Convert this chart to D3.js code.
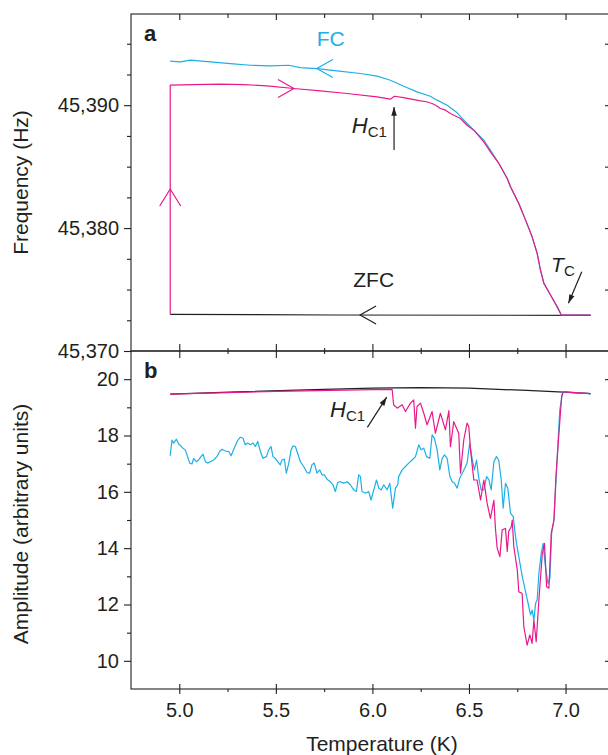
<!DOCTYPE html>
<html>
<head>
  <meta charset="utf-8">
  <title>Frequency / amplitude vs temperature</title>
  <script src="https://cdn.jsdelivr.net/npm/d3@7/dist/d3.min.js"></script>
  <style>
    body { margin: 0; background: #fff; }
    svg { display: block; font-family: "Liberation Sans", Arial, sans-serif; }
    .tick text { font-size: 20px; fill: #231f20; }
    .tick line { stroke: #231f20; stroke-width: 1.1; }
    .frame { fill: none; stroke: #231f20; stroke-width: 1.1; }
    .curve { fill: none; stroke-width: 1.2; stroke-linejoin: round; }
  </style>
</head>
<body>
<script>
  // axis ticks
  const tempTicks = [5.0, 5.5, 6.0, 6.5, 7.0];
  const tempMinor = [5.25, 5.75, 6.25, 6.75];
  const freqTicks = [45370, 45380, 45390];
  const freqMinor = [45372.5, 45375, 45377.5, 45382.5, 45385, 45387.5, 45392.5, 45395];
  const freqRight = [45375, 45380, 45385, 45390, 45395];
  const ampTicks = [10, 12, 14, 16, 18, 20];
  const ampMinor = [11, 13, 15, 17, 19];

  // panel a: [temperature K, frequency Hz]
  const fcFreq = [
    [4.953, 45393.58], [5.005, 45393.52], [5.057, 45393.66], [5.161, 45393.52], [5.264, 45393.39],
    [5.368, 45393.25], [5.472, 45393.20], [5.567, 45393.25], [5.627, 45393.06], [5.713, 45392.98],
    [5.817, 45392.79], [5.938, 45392.58], [6.024, 45392.36], [6.093, 45392.03], [6.162, 45391.54],
    [6.231, 45391.08], [6.300, 45390.73], [6.335, 45390.41], [6.387, 45390.00], [6.439, 45389.38],
    [6.482, 45388.65], [6.525, 45387.97], [6.577, 45387.15], [6.611, 45386.34], [6.655, 45385.26],
    [6.698, 45384.04], [6.715, 45383.36], [6.758, 45382.00], [6.793, 45380.65], [6.827, 45379.29],
    [6.853, 45377.94], [6.870, 45376.59], [6.888, 45375.50], [6.922, 45374.55], [6.957, 45373.59],
    [6.978, 45372.93], [7.130, 45372.93]
  ];
  const zfcFreq = [[7.130, 45372.90], [5.800, 45372.93], [4.953, 45372.98]];
  const warmFreq = [
    [4.953, 45372.98], [4.953, 45391.63], [5.074, 45391.68], [5.212, 45391.71], [5.333, 45391.68],
    [5.454, 45391.57], [5.593, 45391.36], [5.730, 45391.16], [5.869, 45390.95], [6.024, 45390.68],
    [6.093, 45390.49], [6.114, 45390.73], [6.162, 45390.62], [6.249, 45390.35], [6.280, 45390.28],
    [6.309, 45390.14], [6.330, 45389.98], [6.352, 45389.73], [6.375, 45389.62], [6.404, 45389.32],
    [6.456, 45388.92], [6.490, 45388.37], [6.525, 45387.97], [6.577, 45387.02], [6.611, 45386.20],
    [6.655, 45385.26], [6.698, 45384.04], [6.715, 45383.36], [6.758, 45382.00], [6.793, 45380.65],
    [6.827, 45379.29], [6.853, 45377.94], [6.870, 45376.59], [6.888, 45375.50], [6.922, 45374.55],
    [6.957, 45373.59], [6.978, 45372.93], [7.130, 45372.93]
  ];

  // panel b: [temperature K, amplitude]
  const refAmp = [
    [4.953, 19.47], [5.3, 19.55], [5.7, 19.63], [6.0, 19.68], [6.25, 19.70],
    [6.5, 19.68], [6.8, 19.60], [6.99, 19.54], [7.13, 19.49]
  ];
  const fcAmp = [
    [4.953, 17.28], [4.962, 17.84], [4.971, 17.73], [4.985, 17.87], [4.997, 17.70], [5.019, 17.55],
    [5.031, 17.49], [5.040, 17.31], [5.054, 17.02], [5.066, 16.99], [5.074, 17.19], [5.088, 17.07],
    [5.100, 17.13], [5.112, 17.25], [5.123, 17.34], [5.135, 17.07], [5.147, 17.02], [5.161, 17.07],
    [5.178, 17.13], [5.195, 17.25], [5.209, 17.43], [5.221, 17.51], [5.238, 17.45], [5.256, 17.43],
    [5.268, 17.28], [5.282, 17.51], [5.302, 17.82], [5.316, 17.94], [5.330, 17.90], [5.342, 17.67],
    [5.354, 17.73], [5.368, 17.67], [5.382, 17.73], [5.394, 17.61], [5.406, 17.79], [5.420, 17.43],
    [5.433, 17.19], [5.451, 17.25], [5.463, 17.49], [5.475, 17.61], [5.485, 17.25], [5.497, 17.19],
    [5.509, 17.07], [5.523, 16.96], [5.532, 17.13], [5.544, 17.16], [5.554, 16.66], [5.567, 17.02],
    [5.579, 17.49], [5.589, 17.63], [5.601, 17.61], [5.613, 17.37], [5.627, 17.07], [5.644, 16.90],
    [5.662, 16.68], [5.675, 16.66], [5.687, 16.96], [5.699, 17.02], [5.713, 16.66], [5.727, 16.78],
    [5.739, 16.60], [5.751, 16.60], [5.765, 16.45], [5.782, 16.36], [5.796, 16.25], [5.808, 16.01],
    [5.820, 16.33], [5.834, 16.36], [5.851, 16.31], [5.869, 16.36], [5.886, 16.25], [5.903, 16.07],
    [5.917, 16.01], [5.929, 16.60], [5.938, 16.54], [5.946, 16.01], [5.964, 15.95], [5.981, 16.01],
    [5.993, 15.71], [6.007, 16.07], [6.021, 16.42], [6.033, 16.13], [6.045, 16.07], [6.059, 16.25],
    [6.076, 16.07], [6.090, 16.30], [6.105, 15.42], [6.119, 16.13], [6.131, 16.25], [6.136, 16.54],
    [6.154, 16.78], [6.171, 16.90], [6.188, 17.02], [6.206, 17.13], [6.223, 17.25], [6.240, 17.67],
    [6.252, 17.49], [6.266, 17.55], [6.280, 17.25], [6.297, 17.19], [6.309, 18.02], [6.321, 17.90],
    [6.335, 17.49], [6.349, 16.78], [6.361, 17.19], [6.373, 17.31], [6.387, 17.19], [6.401, 16.54],
    [6.413, 16.36], [6.425, 16.31], [6.439, 16.13], [6.452, 16.48], [6.465, 16.66], [6.478, 16.84],
    [6.490, 17.02], [6.504, 17.73], [6.516, 17.19], [6.528, 16.78], [6.539, 17.13], [6.551, 16.48],
    [6.563, 16.07], [6.577, 16.07], [6.591, 16.54], [6.603, 16.43], [6.615, 16.07], [6.629, 17.07],
    [6.642, 17.25], [6.654, 17.13], [6.667, 16.43], [6.677, 15.42], [6.689, 16.30], [6.701, 16.13],
    [6.715, 15.24], [6.729, 15.12], [6.741, 14.41], [6.750, 14.00], [6.758, 13.70], [6.776, 12.99],
    [6.793, 12.45], [6.810, 11.92], [6.819, 11.63], [6.827, 11.80], [6.836, 11.45], [6.845, 12.04],
    [6.853, 12.16], [6.862, 13.11], [6.874, 13.82], [6.884, 14.17], [6.896, 13.34], [6.909, 12.75],
    [6.919, 12.93], [6.928, 14.53], [6.940, 15.00], [6.955, 17.00], [6.970, 18.90], [6.985, 19.55],
    [7.130, 19.49]
  ];
  const zfcAmp = [
    [4.953, 19.47], [5.5, 19.57], [6.0, 19.63], [6.102, 19.64], [6.110, 19.09], [6.128, 18.97],
    [6.154, 19.09], [6.171, 18.85], [6.197, 19.15], [6.214, 19.26], [6.223, 18.26], [6.231, 19.03],
    [6.249, 19.15], [6.266, 18.79], [6.283, 18.38], [6.309, 18.85], [6.326, 18.08], [6.352, 18.79],
    [6.378, 18.20], [6.396, 18.88], [6.404, 17.60], [6.421, 18.49], [6.447, 18.08], [6.456, 16.66],
    [6.473, 17.84], [6.490, 18.44], [6.499, 18.32], [6.508, 17.49], [6.525, 16.42], [6.542, 16.42],
    [6.560, 15.71], [6.577, 16.42], [6.594, 15.59], [6.611, 15.06], [6.629, 15.71], [6.637, 14.70],
    [6.646, 14.00], [6.660, 13.70], [6.672, 14.65], [6.689, 14.70], [6.698, 13.88], [6.706, 14.60],
    [6.719, 14.76], [6.724, 15.00], [6.732, 14.06], [6.750, 13.23], [6.758, 12.45], [6.775, 12.40],
    [6.784, 11.21], [6.801, 10.56], [6.815, 10.92], [6.827, 10.62], [6.836, 11.45], [6.848, 10.68],
    [6.862, 12.16], [6.879, 13.76], [6.891, 14.17], [6.902, 12.63], [6.914, 12.58], [6.926, 14.53],
    [6.940, 15.00], [6.950, 16.50], [6.965, 18.00], [6.980, 19.40], [6.990, 19.55], [7.130, 19.49]
  ];

  const cyan = '#1cb0e6', magenta = '#e8198b', ink = '#231f20';
  const left = 131, right = 609, topA = 14, mid = 351, bottom = 689;

  const svg = d3.select('body').append('svg')
    .attr('width', 608)
    .attr('height', 755);

  const x = d3.scaleLinear().domain([4.75, 7.225]).range([left, right]);
  const yA = d3.scaleLinear().domain([45370, 45397.42]).range([mid, topA]);
  const yB = d3.scaleLinear().domain([9, 21]).range([bottom, mid]);

  svg.append('defs').append('marker')
    .attr('id', 'head')
    .attr('markerUnits', 'userSpaceOnUse')
    .attr('viewBox', '0 -4 10 8')
    .attr('refX', 10).attr('refY', 0)
    .attr('markerWidth', 10).attr('markerHeight', 7)
    .attr('orient', 'auto')
    .append('path').attr('d', 'M0,-3.2L10,0L0,3.2Z').attr('fill', ink);

  // ticks drawn with axis generators, no domain path
  function ticks(gen, tx, ty) {
    const g = svg.append('g').attr('transform', `translate(${tx},${ty})`).call(gen);
    g.select('.domain').remove();
    return g;
  }

  // x ticks: top of a, between panels, bottom of b
  ticks(d3.axisTop(x).tickValues(tempTicks).tickSize(-6).tickFormat(''), 0, topA);
  ticks(d3.axisTop(x).tickValues(tempMinor).tickSize(-4).tickFormat(''), 0, topA);
  ticks(d3.axisTop(x).tickValues(tempTicks).tickSize(7).tickFormat(''), 0, mid);
  ticks(d3.axisBottom(x).tickValues(tempTicks).tickSize(7).tickFormat(''), 0, mid);
  ticks(d3.axisTop(x).tickValues(tempMinor).tickSize(3).tickFormat(''), 0, mid);
  ticks(d3.axisBottom(x).tickValues(tempMinor).tickSize(3).tickFormat(''), 0, mid);
  ticks(d3.axisBottom(x).tickValues(tempTicks).tickSize(-5).tickFormat(''), 0, bottom);
  ticks(d3.axisBottom(x).tickValues(tempTicks).tickSizeInner(5).tickSizeOuter(0).tickPadding(9)
    .tickFormat(d3.format('.1f')), 0, bottom);
  ticks(d3.axisBottom(x).tickValues(tempMinor).tickSize(3).tickFormat(''), 0, bottom);

  // y ticks panel a
  ticks(d3.axisLeft(yA).tickValues(freqTicks).tickSize(7).tickPadding(5).tickFormat(d3.format(',')), left, 0);
  ticks(d3.axisLeft(yA).tickValues(freqMinor).tickSize(4).tickFormat(''), left, 0);
  ticks(d3.axisRight(yA).tickValues(freqRight).tickSize(-4).tickFormat(''), right, 0);

  // y ticks panel b
  ticks(d3.axisLeft(yB).tickValues(ampTicks).tickSize(7).tickPadding(5).tickFormat(d3.format('d')), left, 0);
  ticks(d3.axisLeft(yB).tickValues(ampMinor).tickSize(4).tickFormat(''), left, 0);
  ticks(d3.axisRight(yB).tickValues(ampTicks).tickSize(-4).tickFormat(''), right, 0);

  svg.selectAll('.tick text').attr('fill', ink);

  // frames
  svg.append('rect').attr('class', 'frame')
    .attr('x', left).attr('y', topA).attr('width', right - left).attr('height', mid - topA);
  svg.append('rect').attr('class', 'frame')
    .attr('x', left).attr('y', mid).attr('width', right - left).attr('height', bottom - mid);

  // curves
  const lineA = d3.line().x(d => x(d[0])).y(d => yA(d[1]));
  const lineB = d3.line().x(d => x(d[0])).y(d => yB(d[1]));

  svg.append('path').attr('class', 'curve').attr('d', lineA(zfcFreq)).attr('stroke', ink);
  svg.append('path').attr('class', 'curve').attr('d', lineA(fcFreq)).attr('stroke', cyan);
  svg.append('path').attr('class', 'curve').attr('d', lineA(warmFreq)).attr('stroke', magenta);

  svg.append('path').attr('class', 'curve').attr('d', lineB(refAmp)).attr('stroke', ink);
  svg.append('path').attr('class', 'curve').attr('d', lineB(fcAmp)).attr('stroke', cyan);
  svg.append('path').attr('class', 'curve').attr('d', lineB(zfcAmp)).attr('stroke', magenta);

  // open chevrons showing sweep direction
  function chevron(px, py, dir, color) {
    const len = 16, half = 9;
    let d;
    if (dir === 'left') d = `M${px + len},${py - half}L${px},${py}L${px + len},${py + half}`;
    if (dir === 'right') d = `M${px - len},${py - half}L${px},${py}L${px - len},${py + half}`;
    if (dir === 'up') d = `M${px - half - 1.5},${py + len + 1}L${px},${py}L${px + half + 1.5},${py + len + 1}`;
    svg.append('path').attr('class', 'curve').attr('d', d).attr('stroke', color);
  }
  chevron(x(5.712), yA(45392.98), 'left', cyan);
  chevron(x(5.594), yA(45391.36), 'right', magenta);
  chevron(x(4.953), yA(45383.18), 'up', magenta);
  chevron(x(5.936), yA(45372.93), 'left', ink);

  // annotation arrows
  function arrow(x1, y1, x2, y2) {
    svg.append('line')
      .attr('x1', x1).attr('y1', y1).attr('x2', x2).attr('y2', y2)
      .attr('stroke', ink).attr('stroke-width', 1.2)
      .attr('marker-end', 'url(#head)');
  }
  arrow(x(6.112), yA(45386.35), x(6.112), yA(45389.85));
  arrow(x(7.084), yA(45376.45), x(7.015), yA(45373.88));
  arrow(x(5.974), yB(18.29), x(6.074), yB(19.36));

  // labels
  function label(px, py, txt, opts) {
    const t = svg.append('text').attr('x', px).attr('y', py)
      .attr('font-size', opts.size || 21)
      .attr('fill', opts.color || ink)
      .attr('font-weight', opts.bold ? 'bold' : null)
      .attr('font-style', opts.italic ? 'italic' : null)
      .text(txt);
    if (opts.sub) {
      t.append('tspan').attr('dx', opts.subDx || 0).attr('dy', 4)
        .attr('font-size', 15).attr('font-style', 'normal').text(opts.sub);
    }
    return t;
  }
  label(x(4.817), yA(45395.22), 'a', { bold: true, size: 22 });
  label(x(4.817), yB(20.04), 'b', { bold: true, size: 22 });
  label(x(5.712), yA(45394.84), 'FC', { color: cyan });
  label(x(5.901), yA(45375.18), 'ZFC', {});
  label(x(5.893), yA(45387.76), 'H', { italic: true, size: 22, sub: 'C1' });
  label(x(6.925), yA(45376.45), 'T', { italic: true, size: 21, sub: 'C', subDx: 0 });
  label(x(5.781), yB(18.67), 'H', { italic: true, size: 22, sub: 'C1' });

  // axis titles
  svg.append('text')
    .attr('transform', `translate(28,${(topA + mid) / 2}) rotate(-90)`)
    .attr('text-anchor', 'middle').attr('font-size', 21).attr('fill', ink)
    .text('Frequency (Hz)');
  svg.append('text')
    .attr('transform', `translate(28,${(mid + bottom) / 2 + 4}) rotate(-90)`)
    .attr('text-anchor', 'middle').attr('font-size', 21).attr('fill', ink)
    .text('Amplitude (arbitrary units)');
  svg.append('text')
    .attr('x', (left + right) / 2 + 12).attr('y', 751)
    .attr('text-anchor', 'middle').attr('font-size', 21).attr('fill', ink)
    .text('Temperature (K)');
</script>
</body>
</html>
